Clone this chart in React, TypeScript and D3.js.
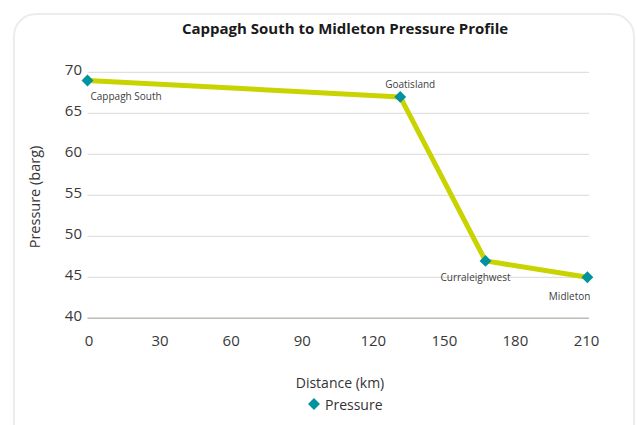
import * as d3 from "d3";
import { useEffect, useRef } from "react";

// stations along the pipeline
const stations = ["Cappagh South", "Goatisland", "Curraleighwest", "Midleton"];
const distanceKm = [0, 132, 168, 211];
const pressureBarg = [69, 67, 47, 45];

const xTicks = [0, 30, 60, 90, 120, 150, 180, 210];
const yTicks = [40, 45, 50, 55, 60, 65, 70];

// label placement relative to marker: [dx, dy, anchor]
const labelPlacement: [number, number, string][] = [
    [3, 16, "start"],
    [10, -12, "middle"],
    [-10, 17, "middle"],
    [3, 19, "end"],
];

const W = 637;
const H = 425;
const FONT = "'Open Sans', 'Noto Sans', sans-serif";

const App = () => {
    const ref = useRef<SVGSVGElement>(null);

    useEffect(() => {
        const svg = d3.select(ref.current);
        svg.selectAll("*").remove();

        const left = 87.5, right = 589, top = 72.3, bottom = 318.3;

        const x = d3.scaleLinear().domain([0, 210]).range([left, 585]);
        const y = d3.scaleLinear().domain([40, 70]).range([bottom, top]);

        // outer frame
        svg.append("rect")
            .attr("x", 14).attr("y", 14)
            .attr("width", 620).attr("height", 440)
            .attr("rx", 22)
            .attr("fill", "#fff")
            .attr("stroke", "#ececec")
            .attr("stroke-width", 2);

        svg.append("text")
            .attr("x", 345).attr("y", 34)
            .attr("text-anchor", "middle")
            .style("font-family", FONT)
            .style("font-size", "15px")
            .style("font-weight", "bold")
            .attr("fill", "#1a1a1a")
            .text("Cappagh South to Midleton Pressure Profile");

        // gridlines
        svg.append("g").selectAll("line")
            .data(yTicks.filter(t => t !== 40))
            .enter().append("line")
            .attr("x1", left).attr("x2", right)
            .attr("y1", d => y(d)).attr("y2", d => y(d))
            .attr("stroke", "#d9d9d9")
            .attr("stroke-width", 1);

        svg.append("line")
            .attr("x1", left).attr("x2", right)
            .attr("y1", y(40)).attr("y2", y(40))
            .attr("stroke", "#bfbbb4")
            .attr("stroke-width", 1.5);

        // y tick labels
        svg.append("g").selectAll("text")
            .data(yTicks)
            .enter().append("text")
            .attr("x", 82)
            .attr("y", d => y(d) - 3)
            .attr("dy", "0.35em")
            .attr("text-anchor", "end")
            .style("font-family", FONT)
            .style("font-size", "15px")
            .attr("fill", "#383838")
            .text(d => d);

        // x tick labels
        svg.append("g").selectAll("text")
            .data(xTicks)
            .enter().append("text")
            .attr("x", d => x(d) + 1.5)
            .attr("y", 341)
            .attr("dy", "0.35em")
            .attr("text-anchor", "middle")
            .style("font-family", FONT)
            .style("font-size", "15px")
            .attr("fill", "#383838")
            .text(d => d);

        // axis titles
        svg.append("text")
            .attr("transform", "translate(35,197) rotate(-90)")
            .attr("text-anchor", "middle")
            .attr("dy", "0.35em")
            .style("font-family", FONT)
            .style("font-size", "14.5px")
            .attr("fill", "#333")
            .text("Pressure (barg)");

        svg.append("text")
            .attr("x", 340).attr("y", 383)
            .attr("dy", "0.35em")
            .attr("text-anchor", "middle")
            .style("font-family", FONT)
            .style("font-size", "14px")
            .attr("fill", "#333")
            .text("Distance (km)");

        const pts = distanceKm.map((d, i) => [x(d), y(pressureBarg[i])] as [number, number]);

        svg.append("path")
            .attr("d", d3.line()(pts))
            .attr("fill", "none")
            .attr("stroke", "#c9d300")
            .attr("stroke-width", 5)
            .attr("stroke-linejoin", "round");

        const diamond = d3.symbol().type(d3.symbolDiamond2).size(90);

        svg.append("g").selectAll("path")
            .data(pts)
            .enter().append("path")
            .attr("d", diamond())
            .attr("transform", d => `translate(${d[0]},${d[1]})`)
            .attr("fill", "#00929f");

        svg.append("g").selectAll("text")
            .data(pts)
            .enter().append("text")
            .attr("x", (d, i) => d[0] + labelPlacement[i][0])
            .attr("y", (d, i) => d[1] + labelPlacement[i][1])
            .attr("dy", "0.35em")
            .attr("text-anchor", (d, i) => labelPlacement[i][2])
            .style("font-family", FONT)
            .style("font-size", "10px")
            .attr("fill", "#404040")
            .text((d, i) => stations[i]);

        // legend
        svg.append("path")
            .attr("d", d3.symbol().type(d3.symbolDiamond2).size(90)())
            .attr("transform", "translate(314,404)")
            .attr("fill", "#00929f");

        svg.append("text")
            .attr("x", 325).attr("y", 405)
            .attr("dy", "0.35em")
            .style("font-family", FONT)
            .style("font-size", "14px")
            .attr("fill", "#333")
            .text("Pressure");
    }, []);

    return (
        <svg ref={ref} width={W} height={H}
            style={{ position: "absolute", left: 0, top: 0, background: "#fff" }}></svg>
    );
};

export default App;
